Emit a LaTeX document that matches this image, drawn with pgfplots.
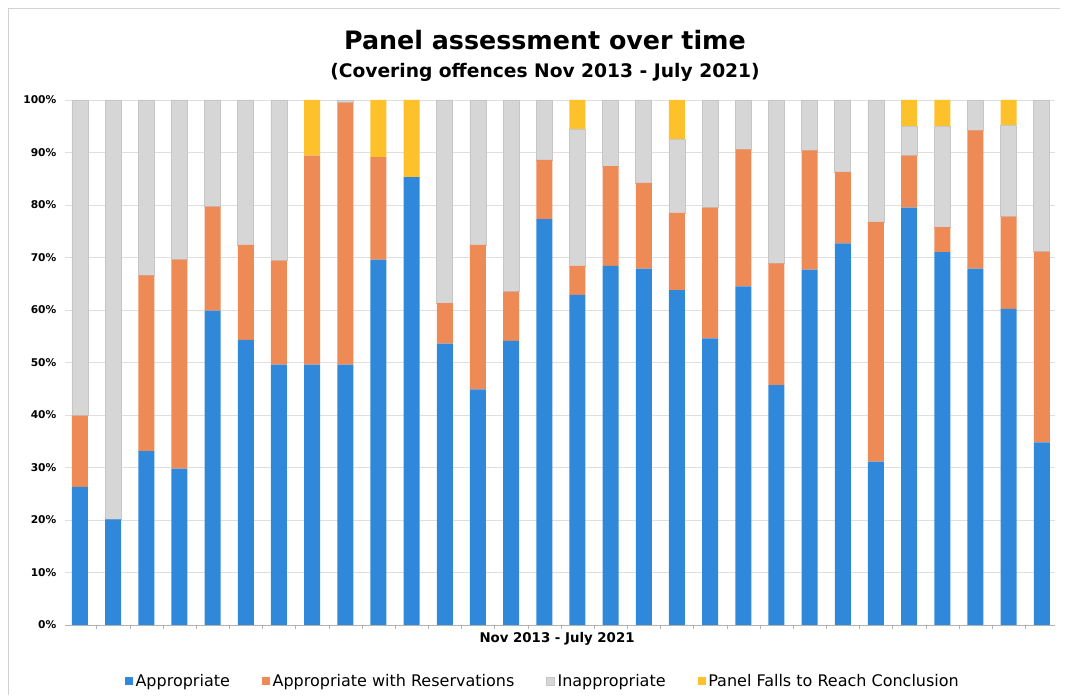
\documentclass[border=0pt]{standalone}
\usepackage{fontspec}
\setmainfont{DejaVu Sans}
\usepackage{pgfplots}
\pgfplotsset{compat=1.18}
\usepackage{pgfplotstable}

\definecolor{appr}{HTML}{2F88DA}
\definecolor{resv}{HTML}{EE8A55}
\definecolor{inap}{HTML}{D6D6D6}
\definecolor{nocon}{HTML}{FDC12B}

% share of cases per period, in per cent
\pgfplotstableread{
n  a    r    i    p
1  26.3 13.6 60.1 0
2  20.1 0    79.9 0
3  33.1 33.5 33.4 0
4  29.8 39.8 30.4 0
5  59.9 19.8 20.3 0
6  54.3 18.1 27.6 0
7  49.6 19.8 30.6 0
8  49.6 39.8 0    10.6
9  49.6 49.9 0.5  0
10 69.6 19.5 0    10.9
11 85.3 0    0    14.7
12 53.6 7.7  38.7 0
13 44.9 27.5 27.6 0
14 54.1 9.4  36.5 0
15 77.3 11.3 11.4 0
16 62.9 5.5  26.1 5.5
17 68.4 19.0 12.6 0
18 67.9 16.3 15.8 0
19 63.8 14.7 14.0 7.5
20 54.6 24.9 20.5 0
21 64.5 26.1 9.4  0
22 45.7 23.2 31.1 0
23 67.7 22.7 9.6  0
24 72.7 13.6 13.7 0
25 31.1 45.7 23.2 0
26 79.5 9.9  5.5  5.1
27 71.0 4.8  19.1 5.1
28 67.9 26.3 5.8  0
29 60.2 17.6 17.4 4.8
30 34.8 36.3 28.9 0
}\panel

\begin{document}
\begin{tikzpicture}
\path[use as bounding box] (0,0) rectangle (799.5pt,523.5pt);
\draw[gray!35] (6pt,2pt) -- (6pt,517pt) -- (795pt,517pt);

\node[font=\bfseries\fontsize{19}{22}\selectfont] at (408.75pt,493.5pt) {Panel assessment over time};
\node[font=\bfseries\fontsize{14}{17}\selectfont] at (408.75pt,469pt) {(Covering offences Nov 2013 - July 2021)};

\begin{axis}[
    at={(48.75pt,54.75pt)}, anchor=south west,
    width=742.5pt, height=393.75pt, scale only axis,
    ybar stacked, bar width=12pt,
    xmin=0.55, xmax=30.4, ymin=0, ymax=100,
    ytick={0,10,...,100},
    yticklabel={\pgfmathprintnumber[assume math mode=true]{\tick}\%},
    yticklabel style={font=\bfseries\fontsize{8}{9}\selectfont},
    xtick={1.5,2.5,...,29.5}, xticklabels={},
    tick align=outside, major tick length=3pt,
    axis lines*=left,
    y axis line style={draw=none}, ytick style={draw=none},
    x axis line style={gray!60}, xtick style={gray!60},
    ymajorgrids, grid style={gray!25},
    xlabel={Nov 2013 - July 2021},
    xlabel style={font=\bfseries\fontsize{10}{12}\selectfont, at={(axis description cs:0.497,0)}, anchor=north, yshift=-2pt},
    legend style={at={(0.483,-0.107)}, anchor=center, draw=none,
        font=\fontsize{12}{14}\selectfont,
        /tikz/every even column/.append style={column sep=22pt}},
    legend columns=4,
    legend image code/.code={\fill[#1] (0pt,-3pt) rectangle (6pt,3pt);},
]
\addplot[fill=appr, draw=none] table[x=n, y=a] {\panel};
\addplot[fill=resv, draw=none] table[x=n, y=r] {\panel};
\addplot[fill=inap, draw=gray!45, line width=0.4pt] table[x=n, y=i] {\panel};
\addplot[fill=nocon, draw=none] table[x=n, y=p] {\panel};
\legend{Appropriate, Appropriate with Reservations, Inappropriate, Panel Falls to Reach Conclusion}
\end{axis}
\end{tikzpicture}
\end{document}
